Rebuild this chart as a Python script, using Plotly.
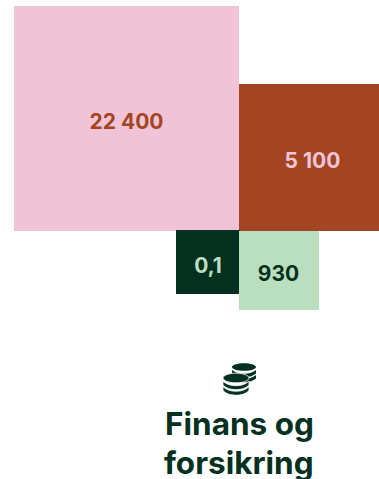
import plotly.graph_objects as go

labels = ["22 400", "5 100", "0,1", "930"]
left = [14, 239, 176, 239]
right = [239, 379, 240, 319]
top = [6, 84, 230, 231]
bottom = [231, 231, 294, 310]
label_y = [123.5, 163, 268, 276]
label_x = [126.5, 312.5, 208, 278.5]
fills = ["#F0C4D6", "#A34423", "#03301F", "#B9DFBE"]
text_colors = ["#A34423", "#F0C4D6", "#B9DFBE", "#03301F"]
title_lines = ["Finans og", "forsikring"]
DARK = "#03301F"

fig = go.Figure()
for i in range(len(labels)):
    fig.add_trace(go.Bar(
        x=[(left[i] + right[i]) / 2], y=[bottom[i] - top[i]], base=[top[i]],
        width=[right[i] - left[i]], marker=dict(color=fills[i], line_width=0),
        hoverinfo="skip", showlegend=False))
fig.add_trace(go.Scatter(
    x=label_x, y=label_y, mode="text", text=labels,
    textfont=dict(family="Inter", size=21, color=text_colors, weight=700),
    hoverinfo="skip", showlegend=False, cliponaxis=False))

def coin_path(cx, cy, rx, ry, n, gap, th):
    k = 0.5523
    p = (f"M{cx-rx},{cy} C{cx-rx},{cy-k*ry} {cx-k*rx},{cy-ry} {cx},{cy-ry} "
         f"C{cx+k*rx},{cy-ry} {cx+rx},{cy-k*ry} {cx+rx},{cy} "
         f"C{cx+rx},{cy+k*ry} {cx+k*rx},{cy+ry} {cx},{cy+ry} "
         f"C{cx-k*rx},{cy+ry} {cx-rx},{cy+k*ry} {cx-rx},{cy} Z ")
    for j in range(n):
        y0 = cy + 3 + j * gap
        p += (f"M{cx-rx},{y0} C{cx-rx*0.6},{y0+ry*1.3} {cx+rx*0.6},{y0+ry*1.3} {cx+rx},{y0} "
              f"L{cx+rx},{y0+th} C{cx+rx*0.6},{y0+th+ry*1.3} {cx-rx*0.6},{y0+th+ry*1.3} {cx-rx},{y0+th} Z ")
    return p

shapes = [
    dict(type="path", path=coin_path(244, 367, 12, 3.8, 2, 5, 3.6), fillcolor=DARK, line_width=0, layer="above"),
    dict(type="path", path=coin_path(236, 378, 13, 4.8, 2, 5.6, 4.0), fillcolor=DARK, line=dict(color="white", width=0.8), layer="above"),
]

fig.update_layout(
    width=379, height=479, margin=dict(l=0, r=0, t=0, b=0),
    paper_bgcolor="white", plot_bgcolor="white", barmode="overlay", shapes=shapes,
    xaxis=dict(range=[0, 379], visible=False, fixedrange=True),
    yaxis=dict(range=[479, 0], visible=False, fixedrange=True),
    annotations=[
        dict(x=239, y=423, xref="x", yref="y", text=title_lines[0], showarrow=False,
             font=dict(family="Inter", size=31.5, color=DARK, weight=700)),
        dict(x=239, y=462, xref="x", yref="y", text=title_lines[1], showarrow=False,
             font=dict(family="Inter", size=31.5, color=DARK, weight=700)),
    ],
)
fig.write_html("out.html", config={"displayModeBar": False},
               post_script="document.body.style.margin='0';document.body.style.overflow='hidden';")
